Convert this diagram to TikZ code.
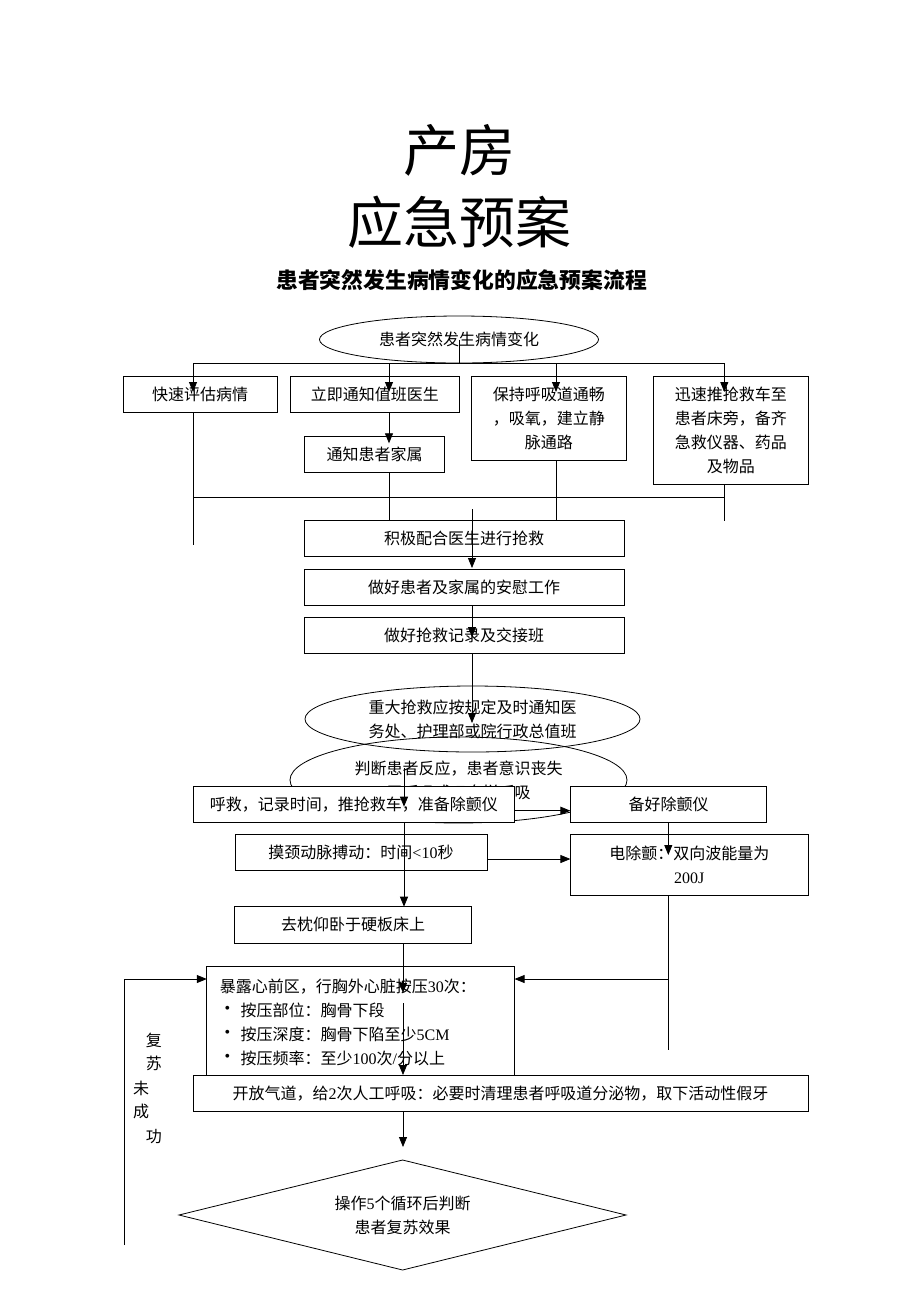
\documentclass[tikz,border=0pt]{standalone}
\usepackage{fontspec}
\setmainfont{Noto Sans CJK SC}
\newfontfamily\lat{Liberation Serif}
\usetikzlibrary{arrows.meta,shapes.geometric}
\newcommand{\fsb}{\fontsize{16}{24}\selectfont}
\begin{document}
\begin{tikzpicture}[x=1pt,y=-1pt,
  box/.style={draw,line width=0.8pt,fill=white,inner sep=0pt,align=center,font=\fsb},
  oval/.style={draw,ellipse,line width=0.8pt,inner sep=0pt,align=center,font=\fsb},
  conn/.style={line width=0.8pt},
  arr/.style={line width=0.8pt,-{Triangle[length=10pt,width=8pt]}},
  txt/.style={inner sep=0pt,font=\fsb}]
\path[use as bounding box] (0,0) rectangle (920,1302);

% titles
\node[inner sep=0pt,font=\fontsize{56}{60}\selectfont] (t1) at (459,150.5) {产房};
\node[inner sep=0pt,font=\fontsize{56}{60}\selectfont] (t2) at (459,221.7) {应急预案};
\node[inner sep=0pt,font=\fontsize{21.8}{26}\selectfont\bfseries] (t3) at (461.5,280) {患者突然发生病情变化的应急预案流程};

% first stage
\node[oval,minimum width=279,minimum height=47] (e1) at (459,339.5) {患者突然发生病情变化};
\node[box,minimum width=154,minimum height=36] (b1) at (200,394) {快速评估病情};
\node[box,minimum width=168.4,minimum height=36] (b2) at (374.8,394) {立即通知值班医生};
\node[box,minimum width=154.3,minimum height=84.7] (b3) at (548.9,418.4) {保持呼吸道通畅\\，吸氧，建立静\\脉通路};
\node[box,minimum width=154.2,minimum height=108] (b4) at (730.9,430) {迅速推抢救车至\\患者床旁，备齐\\急救仪器、药品\\及物品};
\node[box,minimum width=140,minimum height=36.7] (b5) at (374.5,454.4) {通知患者家属};
\node[box,minimum width=320,minimum height=36] (b6) at (464,538.7) {积极配合医生进行抢救};
\node[box,minimum width=320,minimum height=36] (b7) at (464,587) {做好患者及家属的安慰工作};
\node[box,minimum width=320,minimum height=36] (b8) at (464,635.3) {做好抢救记录及交接班};

% ellipses of second stage
\node[oval,minimum width=335,minimum height=66] (e2) at (472.5,719) {重大抢救应按规定及时通知医\\务处、护理部或院行政总值班};
\node[oval,minimum width=337,minimum height=86] (e3) at (458.5,780) {判断患者反应，患者意识丧失\\无呼吸或叹息样呼吸};

% CPR boxes
\node[box,minimum width=321.6,minimum height=36.7] (b9) at (353.8,804.3) {呼救，记录时间，推抢救车，准备除颤仪};
\node[box,minimum width=196.3,minimum height=36.7] (b10) at (668.5,804.3) {备好除颤仪};
\node[box,minimum width=252,minimum height=36.7] (b11) at (361,852.3) {摸颈动脉搏动：时间{\lat <10}秒};
\node[box,minimum width=237.9,minimum height=61] (b12) at (689.3,864.5) {电除颤：双向波能量为\\{\lat 200J}};
\node[box,minimum width=237.2,minimum height=36.3] (b13) at (353.1,924.8) {去枕仰卧于硬板床上};
\node[box,minimum width=307.8,minimum height=108.3] (b14) at (360.7,1020.8) {};
\node[txt,anchor=west] (b14a) at (219.7,986.7) {暴露心前区，行胸外心脏按压{\lat 30}次：};
\node[txt] (bu1) at (227.5,1010) {\lat •};
\node[txt] (bu2) at (227.5,1034) {\lat •};
\node[txt] (bu3) at (227.5,1058.3) {\lat •};
\node[txt,anchor=west] (b14b) at (240.4,1010) {按压部位：胸骨下段};
\node[txt,anchor=west] (b14c) at (240.4,1034) {按压深度：胸骨下陷至少{\lat 5CM}};
\node[txt,anchor=west] (b14d) at (240.4,1058.3) {按压频率：至少{\lat 100}次{\lat /}分以上};
\node[box,minimum width=615,minimum height=36.7] (b15) at (500.5,1093.3) {开放气道，给{\lat 2}次人工呼吸：必要时清理患者呼吸道分泌物，取下活动性假牙};

% diamond
\coordinate (dT) at (402.6,1160);
\coordinate (dR) at (626,1215);
\coordinate (dB) at (402.6,1270);
\coordinate (dL) at (179,1215);
\draw[conn] (dT) -- (dR) -- (dB) -- (dL) -- cycle;
\node[txt,align=center] (d1) at (402.6,1215) {操作{\lat 5}个循环后判断\\患者复苏效果};

% side label
\node[txt] (s1) at (153.8,1040) {复};
\node[txt] (s2) at (153.8,1063.5) {苏};
\node[txt] (s3) at (141,1088) {未};
\node[txt] (s4) at (141,1111.7) {成};
\node[txt] (s5) at (153.8,1136.7) {功};

% ---- connectors ----
\coordinate (bus0) at (459,363);
\coordinate (busL) at (193,363);
\coordinate (busR) at (725,363);
\draw[conn] (e1.center) -- (bus0);
\draw[conn] (busL) -- (busR);
\coordinate (a1) at (193,363);   \coordinate (a1t) at (193,392);
\coordinate (a2) at (389,363);   \coordinate (a2t) at (389,392);
\coordinate (a3) at (556,363);   \coordinate (a3t) at (556,392);
\coordinate (a4) at (724.3,363); \coordinate (a4t) at (724.3,392);
\draw[arr] (a1) -- (a1t);
\draw[arr] (a2) -- (a2t);
\draw[arr] (a3) -- (a3t);
\draw[arr] (a4) -- (a4t);
\coordinate (c1) at (389,412); \coordinate (c1t) at (389,443.3);
\draw[arr] (c1) -- (c1t);

% lower bus
\coordinate (lb1) at (193,497);
\coordinate (lb2) at (725,497);
\draw[conn] (lb1) -- (lb2);
\coordinate (v1a) at (193,412); \coordinate (v1b) at (193,545);
\draw[conn] (v1a) -- (v1b);
\coordinate (v2a) at (389,472.7); \coordinate (v2b) at (389,520.7);
\draw[conn] (v2a) -- (v2b);
\coordinate (v3a) at (556,460.7); \coordinate (v3b) at (556,520.7);
\draw[conn] (v3a) -- (v3b);
\coordinate (v4a) at (724.3,484); \coordinate (v4b) at (724.3,520.7);
\draw[conn] (v4a) -- (v4b);

% middle chain
\coordinate (m0) at (472,509); \coordinate (m0t) at (472,568);
\draw[arr] (m0) -- (m0t);
\coordinate (m1) at (472,605); \coordinate (m1t) at (472,637);
\draw[arr] (m1) -- (m1t);
\coordinate (m2) at (472,653.3); \coordinate (m2t) at (472,723);
\draw[arr] (m2) -- (m2t);

% CPR connectors
\coordinate (p0) at (404,768); \coordinate (p0t) at (404,806.7);
\draw[arr] (p0) -- (p0t);
\coordinate (p1) at (404,822.7); \coordinate (p1t) at (404,906.7);
\draw[arr] (p1) -- (p1t);
\coordinate (h1) at (514.6,810.7); \coordinate (h1t) at (570.4,810.7);
\draw[arr] (h1) -- (h1t);
\coordinate (h2) at (668.3,822.7); \coordinate (h2t) at (668.3,855);
\draw[arr] (h2) -- (h2t);
\coordinate (h3) at (487,859); \coordinate (h3t) at (570.4,859);
\draw[arr] (h3) -- (h3t);
\coordinate (r1) at (668.3,895); \coordinate (r2) at (668.3,1050);
\draw[conn] (r1) -- (r2);
\coordinate (r3) at (668.3,979); \coordinate (r3t) at (514.6,979);
\draw[arr] (r3) -- (r3t);
\coordinate (q0) at (403,943); \coordinate (q0t) at (403,993);
\draw[arr] (q0) -- (q0t);
\coordinate (q1) at (403,1003); \coordinate (q1t) at (403,1075);
\draw[arr] (q1) -- (q1t);
\coordinate (q2) at (403,1111.7); \coordinate (q2t) at (403,1147);
\draw[arr] (q2) -- (q2t);

% feedback loop
\coordinate (fb0) at (124,1245);
\coordinate (fb1) at (124,979);
\coordinate (fb2) at (206.8,979);
\draw[arr] (fb0) -- (fb1) -- (fb2);
\end{tikzpicture}
\end{document}
